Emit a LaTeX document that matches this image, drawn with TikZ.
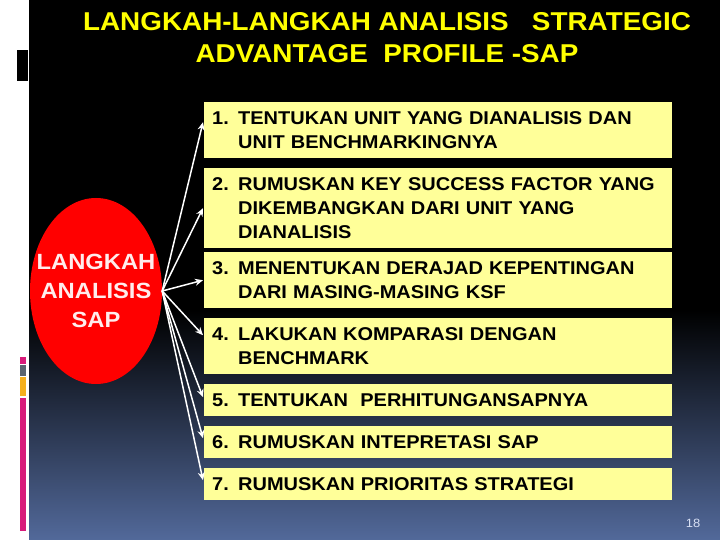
\documentclass[tikz,border=0pt]{standalone}
\usepackage{fontspec}
\setmainfont{Liberation Sans}[FakeStretch=1.08]
\usetikzlibrary{shapes.geometric,arrows.meta,calc}
\definecolor{boxyellow}{HTML}{FFFF99}
\definecolor{panelbot}{HTML}{52699A}
\definecolor{barpink}{HTML}{D81B7A}
\definecolor{bargray}{HTML}{5A6470}
\definecolor{barorange}{HTML}{F5B01E}
\definecolor{pagenum}{HTML}{D8E0F4}
\definecolor{ovaltext}{HTML}{FFECEC}
\definecolor{titleyellow}{HTML}{FFFF00}
\begin{document}
\begin{tikzpicture}[x=1pt,y=-1pt,
  stepbox/.style={fill=boxyellow, anchor=north west, minimum width=468pt,
    text width=452pt, inner xsep=8pt, inner ysep=0pt, align=left,
    font=\bfseries\fontsize{18.5}{24}\selectfont, text=black},
  link/.style={draw=white, line width=1.5pt, -{Stealth[length=8pt,width=7pt]}}]
\useasboundingbox (0,0) rectangle (720,540);
% background
\fill[white] (0,0) rectangle (720,540);
\fill[black] (29,0) rectangle (720,310);
\shade[top color=black, bottom color=panelbot] (29,310) rectangle (720,540);
\fill[black] (17,50) rectangle (28,81);
\fill[barpink] (20,357) rectangle (26,364);
\fill[bargray] (20,365) rectangle (26,376);
\fill[barorange] (20,377) rectangle (26,396);
\fill[barpink] (20,398) rectangle (26,531);
% title
\node[inner sep=0pt, align=center, text=titleyellow,
  font=\bfseries\fontsize{25.8}{32}\selectfont] (title) at (387,38)
  {LANGKAH-LANGKAH ANALISIS\ \ \ STRATEGIC\\ADVANTAGE\ \ PROFILE -SAP};
% oval
\node[ellipse, fill=red, minimum width=132pt, minimum height=186pt, inner sep=0pt]
  (oval) at (96,291) {};
\node[inner sep=0pt, align=center, text=ovaltext, font=\bfseries\fontsize{22}{29}\selectfont]
  (ovaltxt) at (oval.center) {LANGKAH\\ANALISIS\\SAP};
% boxes
\node[stepbox, minimum height=56pt] (b1) at (204,102)
  {\makebox[26pt][l]{1.}TENTUKAN UNIT YANG DIANALISIS DAN\\\hspace*{26pt}UNIT BENCHMARKINGNYA};
\node[stepbox, minimum height=80pt] (b2) at (204,168)
  {\makebox[26pt][l]{2.}RUMUSKAN KEY SUCCESS FACTOR YANG\\\hspace*{26pt}DIKEMBANGKAN DARI UNIT YANG\\\hspace*{26pt}DIANALISIS};
\node[stepbox, minimum height=56pt] (b3) at (204,252)
  {\makebox[26pt][l]{3.}MENENTUKAN DERAJAD KEPENTINGAN\\\hspace*{26pt}DARI MASING-MASING KSF};
\node[stepbox, minimum height=56pt] (b4) at (204,318)
  {\makebox[26pt][l]{4.}LAKUKAN KOMPARASI DENGAN\\\hspace*{26pt}BENCHMARK};
\node[stepbox, minimum height=32pt] (b5) at (204,384)
  {\makebox[26pt][l]{5.}TENTUKAN\ \ PERHITUNGANSAPNYA};
\node[stepbox, minimum height=32pt] (b6) at (204,426)
  {\makebox[26pt][l]{6.}RUMUSKAN INTEPRETASI SAP};
\node[stepbox, minimum height=32pt] (b7) at (204,468)
  {\makebox[26pt][l]{7.}RUMUSKAN PRIORITAS STRATEGI};
% connectors
\draw[link] (oval.east) -- ($(b1.west)+(-1,-8)$);
\draw[link] (oval.east) -- ($(b2.west)+(-1,0)$);
\draw[link] (oval.east) -- ($(b3.west)+(-1,0)$);
\draw[link] (oval.east) -- ($(b4.west)+(-1,-11)$);
\draw[link] (oval.east) -- ($(b5.west)+(-1,-3)$);
\draw[link] (oval.east) -- ($(b6.west)+(-1,-4)$);
\draw[link] (oval.east) -- ($(b7.west)+(-1,-4)$);
% page number
\node[text=pagenum, font=\fontsize{12}{14}\selectfont, inner sep=0pt] (pg) at (693,523) {18};
\end{tikzpicture}
\end{document}
